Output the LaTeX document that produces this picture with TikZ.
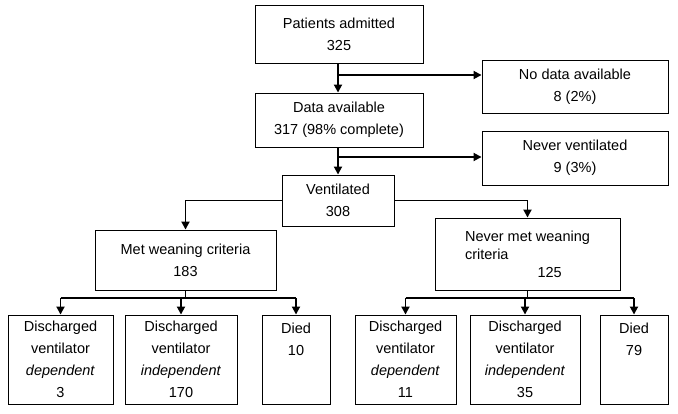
\documentclass[tikz,border=0pt]{standalone}
\usepackage{fontspec}
\setmainfont{Liberation Sans}
\usetikzlibrary{arrows.meta}
\tikzset{
  box/.style={draw, line width=0.9pt, align=center, inner sep=2pt,
    font=\fontsize{14.5}{22}\selectfont},
  arr/.style={line width=1.8pt, -{Triangle[length=8pt,width=8pt]}},
  ln/.style={line width=1.8pt}
}
\begin{document}
\begin{tikzpicture}[x=1pt,y=-1pt]
\useasboundingbox (0,0) rectangle (678,414);
% top chain
\node[box, minimum width=168, minimum height=58] (adm) at (339,34) {Patients admitted\\325};
\node[box, minimum width=186, minimum height=53] (nodata) at (575,86.5) {No data available\\8 (2\%)};
\node[box, minimum width=168, minimum height=54] (avail) at (339,120) {Data available\\317 (98\% complete)};
\node[box, minimum width=186, minimum height=54] (never) at (575,158) {Never ventilated\\9 (3\%)};
\node[box, minimum width=112, minimum height=51] (vent) at (338,200.5) {Ventilated\\308};
% second level
\node[box, minimum width=181, minimum height=60] (met) at (185.5,260) {Met weaning criteria\\183};
\node[box, minimum width=185, minimum height=72, align=left, font=\fontsize{14.5}{18}\selectfont] (nmet) at (527.5,254) {Never met weaning\\criteria\\\hspace*{5em}125};
% bottom row
\node[box, minimum width=105, minimum height=89] (d1) at (60.5,359.5) {Discharged\\ventilator\\\textit{dependent}\\3};
\node[box, minimum width=112, minimum height=89] (i1) at (181,359.5) {Discharged\\ventilator\\\textit{independent}\\170};
\node[box, minimum width=68, minimum height=89] (x1) at (296,359.5) {Died\\10\\[1.3em]};
\node[box, minimum width=101, minimum height=89] (d2) at (405.5,359.5) {Discharged\\ventilator\\\textit{dependent}\\11};
\node[box, minimum width=110, minimum height=89] (i2) at (525,359.5) {Discharged\\ventilator\\\textit{independent}\\35};
\node[box, minimum width=68, minimum height=89] (x2) at (634,359.5) {Died\\79\\[1.3em]};
% connectors
\coordinate (b1) at (338,75);
\coordinate (b2) at (338,157);
\draw[arr] (adm.south -| b1) -- (avail.north -| b1);
\draw[arr] (b1) -- (b1 -| nodata.west);
\draw[arr] (avail.south -| b2) -- (vent.north -| b2);
\draw[arr] (b2) -- (b2 -| never.west);
\coordinate (v1) at (met.north |- vent.west);
\coordinate (v2) at (nmet.north |- vent.east);
\draw[ln] (vent.west) -- (v1);
\draw[ln] (vent.east) -- (v2);
\draw[arr] (v1) -- (met.north);
\draw[arr] (v2) -- (nmet.north);
\coordinate (m1) at (met.south |- 0,298);
\coordinate (m2) at (nmet.south |- 0,298);
\draw[ln] (met.south) -- (m1);
\draw[ln] (nmet.south) -- (m2);
\draw[ln] (d1.north |- m1) -- (x1.north |- m1);
\draw[ln] (d2.north |- m2) -- (x2.north |- m2);
\foreach \n in {d1,i1,x1}
  \draw[arr] (\n.north |- m1) -- (\n.north);
\foreach \n in {d2,i2,x2}
  \draw[arr] (\n.north |- m2) -- (\n.north);
\end{tikzpicture}
\end{document}
